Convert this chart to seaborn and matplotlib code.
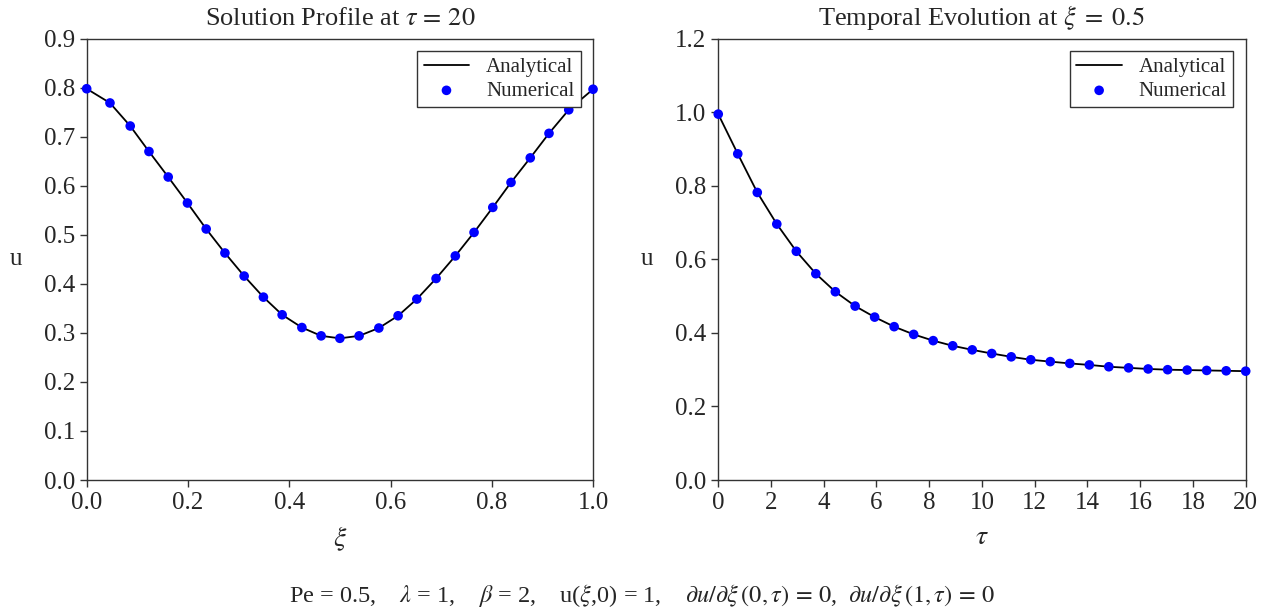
import numpy as np
import pandas as pd
import matplotlib
matplotlib.use('Agg')
import matplotlib.pyplot as plt
import seaborn as sns

# left panel: profile at tau = 20
xi = [0.0, 0.046, 0.086, 0.123, 0.161, 0.199, 0.236, 0.273, 0.311, 0.349,
      0.386, 0.425, 0.463, 0.5, 0.538, 0.577, 0.615, 0.652, 0.690, 0.728,
      0.765, 0.802, 0.838, 0.876, 0.913, 0.952, 1.0]
u_xi = [0.798, 0.769, 0.722, 0.670, 0.618, 0.565, 0.512, 0.463, 0.416, 0.373,
        0.337, 0.311, 0.294, 0.289, 0.294, 0.310, 0.335, 0.369, 0.411, 0.457,
        0.505, 0.556, 0.607, 0.657, 0.707, 0.755, 0.797]

# right panel: evolution at xi = 0.5
tau = [0.0, 0.74, 1.48, 2.22, 2.96, 3.70, 4.44, 5.19, 5.93, 6.67,
       7.41, 8.15, 8.89, 9.63, 10.37, 11.11, 11.85, 12.59, 13.33, 14.07,
       14.81, 15.56, 16.30, 17.04, 17.78, 18.52, 19.26, 20.0]
u_tau = [0.995, 0.887, 0.782, 0.696, 0.622, 0.561, 0.512, 0.473, 0.443, 0.417,
         0.396, 0.379, 0.365, 0.354, 0.344, 0.335, 0.327, 0.322, 0.317, 0.313,
         0.308, 0.305, 0.302, 0.300, 0.299, 0.298, 0.297, 0.296]

sns.set_style('ticks')
plt.rcParams['font.family'] = ['Liberation Serif', 'DejaVu Serif']
plt.rcParams['mathtext.fontset'] = 'stix'

fig = plt.figure(figsize=(12.71, 6.08), dpi=100)
ax1 = fig.add_axes([0.0682, 0.2105, 0.3984, 0.7258])
ax2 = fig.add_axes([0.5651, 0.2105, 0.4150, 0.7258])

df1 = pd.DataFrame({'xi': xi, 'u': u_xi})
df2 = pd.DataFrame({'tau': tau, 'u': u_tau})


def panel(ax, df, xcol):
    sns.lineplot(data=df, x=xcol, y='u', ax=ax, color='black', lw=1.3,
                 label='Analytical')
    sns.scatterplot(data=df, x=xcol, y='u', ax=ax, color='#0000ff', s=48,
                    edgecolor='none', label='Numerical', zorder=3, clip_on=False)
    for sp in ax.spines.values():
        sp.set_visible(True)
        sp.set_color('#333333')
        sp.set_linewidth(1.0)
    ax.tick_params(direction='out', length=5, width=1, labelsize=18, color='#333333')
    ax.set_ylabel('u', fontsize=18, rotation=0, labelpad=20, va='center')
    leg = ax.legend(loc='upper right', fontsize=15, frameon=True, fancybox=False,
                    edgecolor='#333333', framealpha=1, borderpad=0.3,
                    handlelength=2.2, handletextpad=0.8, labelspacing=0.2,
                    borderaxespad=0.6)
    leg.get_frame().set_linewidth(1.0)


panel(ax1, df1, 'xi')
ax1.set_xlim(0, 1)
ax1.set_ylim(0, 0.9)
ax1.set_xticks(np.arange(0, 1.01, 0.2))
ax1.set_yticks(np.arange(0, 0.91, 0.1))
ax1.xaxis.set_major_formatter(matplotlib.ticker.FormatStrFormatter('%.1f'))
ax1.yaxis.set_major_formatter(matplotlib.ticker.FormatStrFormatter('%.1f'))
ax1.set_xlabel(r'$\xi$', fontsize=20, labelpad=8)
ax1.set_title(r'Solution Profile at $\tau\,=\,20$', fontsize=19, pad=10)

panel(ax2, df2, 'tau')
ax2.set_xlim(0, 20)
ax2.set_ylim(0, 1.2)
ax2.set_xticks(np.arange(0, 21, 2))
ax2.set_yticks(np.arange(0, 1.21, 0.2))
ax2.yaxis.set_major_formatter(matplotlib.ticker.FormatStrFormatter('%.1f'))
ax2.set_xlabel(r'$\tau$', fontsize=20, labelpad=8)
ax2.set_title(r'Temporal Evolution at $\xi\;=\;0.5$', fontsize=19, pad=10)

fig.text(0.505, 0.021,
         r'Pe = 0.5,    $\lambda$ = 1,    $\beta$ = 2,    u($\xi$,0) = 1,    '
         r'$\partial u/\partial\xi\,(0,\tau)\,=\,0$,  $\partial u/\partial\xi\,(1,\tau)\,=\,0$',
         ha='center', va='center', fontsize=17.5)

fig.savefig('out.png', dpi=100, facecolor='white')
